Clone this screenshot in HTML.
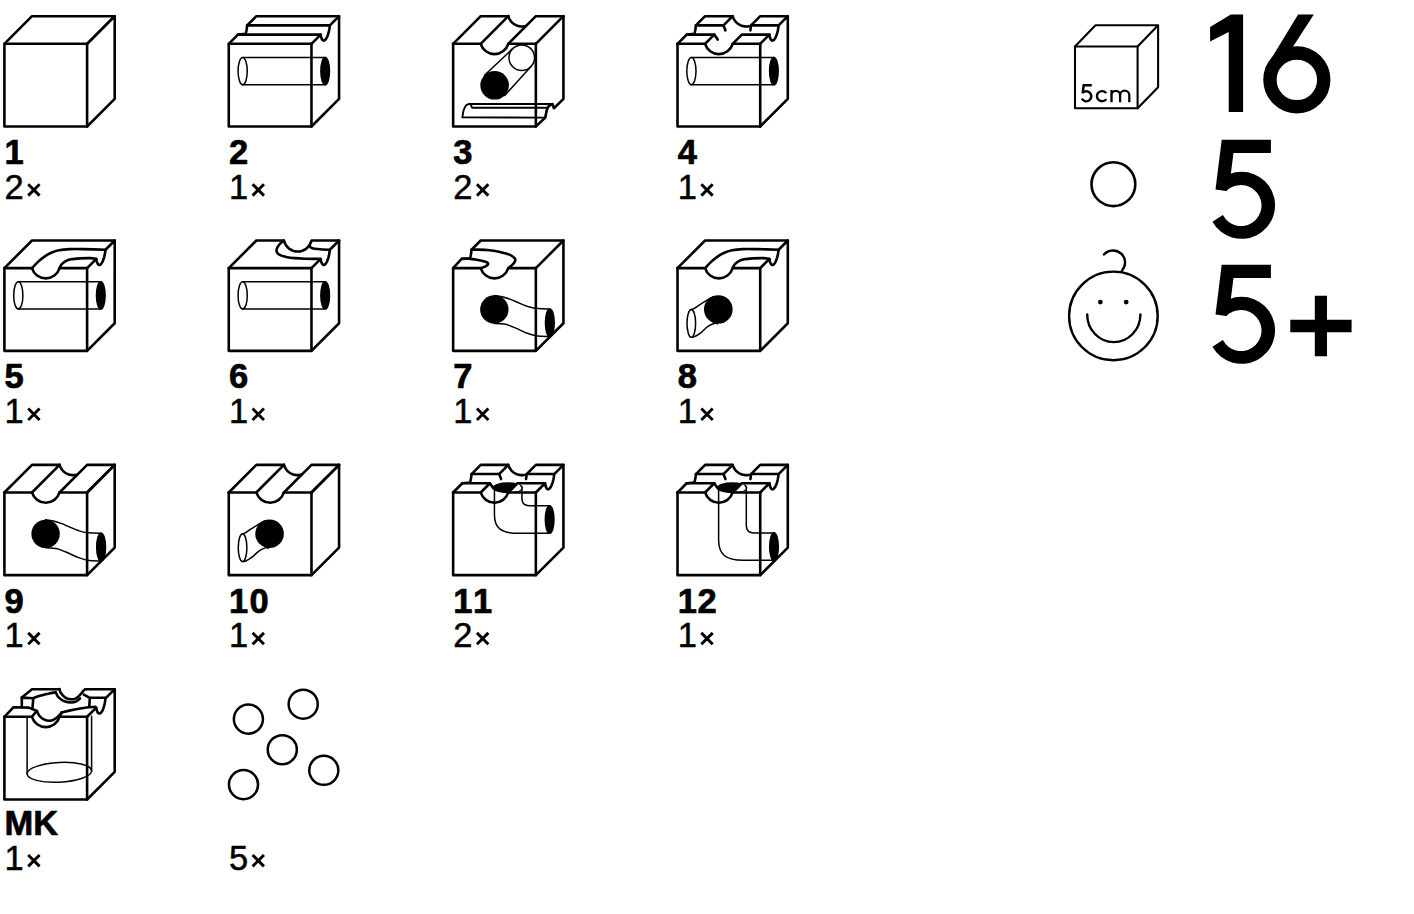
<!DOCTYPE html>
<html><head><meta charset="utf-8"><style>
html,body{margin:0;padding:0;background:#fff;}
body{width:1414px;height:914px;overflow:hidden;}
svg{display:block;}
text{font-family:"Liberation Sans",sans-serif;fill:#000;}
.b{font-weight:bold;font-size:34.5px;stroke:#000;stroke-width:0.7px;}
.n{font-size:34.5px;stroke:#000;stroke-width:0.5px;}
.cm{font-size:24px;}
.big{font-size:136px;}
</style></head><body>
<svg width="1414" height="914" viewBox="0 0 1414 914" stroke-linejoin="round" stroke-linecap="round">
<g transform="translate(4.4,43.8)"><path d="M0,0 H82.7 V82.7 H0 Z" fill="none" stroke="#000" stroke-width="2.6" /><path d="M0,0 L27.6,-27.6 H110.3 L82.7,0" fill="none" stroke="#000" stroke-width="2.6" /><path d="M82.7,0 L110.3,-27.6 V55.1 L82.7,82.7" fill="none" stroke="#000" stroke-width="2.6" /></g>
<g transform="translate(228.77,43.8)"><path d="M13.9,13.6 H96.4 M13.9,40.9 H96.4" fill="none" stroke="#000" stroke-width="1.5" /><ellipse cx="13.9" cy="27.25" rx="4.6" ry="13.65" fill="#fff" stroke="#000" stroke-width="1.5"/><ellipse cx="96.4" cy="27.25" rx="4.3" ry="13.65" fill="#000" stroke="#000" stroke-width="1.5"/><path d="M0,0 H82.7 V82.7 H0 Z" fill="none" stroke="#000" stroke-width="2.6" /><path d="M0,0 L9.2,-9.2 H91.9" fill="none" stroke="#000" stroke-width="2.6" /><path d="M18.4,-18.4 H101.1" fill="none" stroke="#000" stroke-width="2.6" /><path d="M18.4,-18.4 L27.6,-27.6 H110.3" fill="none" stroke="#000" stroke-width="2.6" /><path d="M18.4,-18.4 L18.09,-15.76 17.79,-13.87 17.48,-12.33 17.17,-11.03 16.87,-9.89 9.2,-9.2" fill="none" stroke="#000" stroke-width="2.6" /><path d="M82.7,0 L91.9,-9.2 92.36,-6.77 92.82,-5.35 93.28,-4.42 93.74,-3.81 94.2,-3.43 94.66,-3.24 95.12,-3.22 95.58,-3.34 96.04,-3.61 96.5,-4 96.96,-4.53 97.42,-5.18 97.88,-5.98 98.34,-6.92 98.8,-8.03 99.26,-9.33 99.72,-10.86 100.18,-12.71 100.64,-15.05 101.1,-18.4 110.3,-27.6 110.3,55.1 82.7,82.7" fill="none" stroke="#000" stroke-width="2.6" /></g>
<g transform="translate(453.14,43.8)"><path d="M31.39,31.39 L59.55,4.85 M51.61,51.61 L77.65,22.95" fill="none" stroke="#000" stroke-width="1.5" /><circle cx="68.6" cy="13.9" r="12.8" fill="none" stroke="#000" stroke-width="1.5"/><circle cx="41.5" cy="41.5" r="14.3" fill="#000"/><path d="M15.4,60.2 H99.3 M15.4,60.2 C11.5,61 9.8,68 9.2,73.6 L92.1,73.8 M99.3,60.2 C96,61 94.5,63 93.6,66.5 C93,69 92.6,71.5 92.1,73.8" fill="none" stroke="#000" stroke-width="1.9" /><path d="M17.6,61.0 L19,63.9 H93.6" fill="none" stroke="#000" stroke-width="1.9" /><path d="M0,0 V82.7 H82.7 V0" fill="none" stroke="#000" stroke-width="2.6" /><path d="M0,0 H27.57 A14.37 14.37 0 0 0 55.13,0 H82.7" fill="none" stroke="#000" stroke-width="2.6" /><path d="M0,0 L27.6,-27.6 H55.17" fill="none" stroke="#000" stroke-width="2.6" /><path d="M27.57,0 L55.17,-27.6" fill="none" stroke="#000" stroke-width="2.6" /><path d="M55.13,0 L82.73,-27.6 H110.3" fill="none" stroke="#000" stroke-width="2.6" /><path d="M55.17,-27.6 L55.63,-26.28 56.09,-25.26 56.55,-24.41 57,-23.68 57.46,-23.03 57.92,-22.45 58.38,-21.93 58.84,-21.45 59.3,-21.02 59.76,-20.62 60.22,-20.25 60.68,-19.92 61.14,-19.61 61.6,-19.32 62.06,-19.06 62.52,-18.82 62.98,-18.6 63.44,-18.4 63.9,-18.22 64.36,-18.05 64.81,-17.91 65.27,-17.78 65.73,-17.66 66.19,-17.57 66.65,-17.48 67.11,-17.42 67.57,-17.37 68.03,-17.33 68.49,-17.31 68.95,-17.3 69.41,-17.31 69.87,-17.33 70.33,-17.37 70.79,-17.42 71.25,-17.48 71.71,-17.57 72.17,-17.66 72.63,-17.78" fill="none" stroke="#000" stroke-width="2.6" /><path d="M82.7,0 L110.3,-27.6" fill="none" stroke="#000" stroke-width="2.6" /><path d="M110.3,-27.6 V55.1 L100.8,64.4 L99.3,60.2 C96,61 94.5,63 93.6,66.5 C93,69 92.6,71.5 92.1,73.8 L82.7,82.7" fill="none" stroke="#000" stroke-width="2.6" /></g>
<g transform="translate(677.51,43.8)"><path d="M13.9,13.6 H96.4 M13.9,40.9 H96.4" fill="none" stroke="#000" stroke-width="1.5" /><ellipse cx="13.9" cy="27.25" rx="4.6" ry="13.65" fill="#fff" stroke="#000" stroke-width="1.5"/><ellipse cx="96.4" cy="27.25" rx="4.3" ry="13.65" fill="#000" stroke="#000" stroke-width="1.5"/><path d="M0,0 V82.7 H82.7 V0" fill="none" stroke="#000" stroke-width="2.6" /><path d="M0,0 H27.57 A14.37 14.37 0 0 0 55.13,0 H82.7" fill="none" stroke="#000" stroke-width="2.6" /><path d="M0,0 L9.2,-9.2 H36.77 L27.57,0" fill="none" stroke="#000" stroke-width="2.6" /><path d="M36.77,-9.2 L40.17,-4.2" fill="none" stroke="#000" stroke-width="2.6" /><path d="M55.13,0 L64.33,-9.2 H91.9" fill="none" stroke="#000" stroke-width="2.6" /><path d="M18.4,-18.4 H45.97 L55.17,-27.6 H27.6 Z" fill="none" stroke="#000" stroke-width="2.6" /><path d="M45.97,-18.4 L47.97,-13.4" fill="none" stroke="#000" stroke-width="2.6" /><path d="M18.4,-18.4 L18.09,-15.76 17.79,-13.87 17.48,-12.33 17.17,-11.03 16.87,-9.89 9.2,-9.2" fill="none" stroke="#000" stroke-width="2.6" /><path d="M73.53,-18.4 H101.1 M73.53,-18.4 L82.73,-27.6 H110.3" fill="none" stroke="#000" stroke-width="2.6" /><path d="M73.53,-18.4 L72.93,-13.4" fill="none" stroke="#000" stroke-width="2.6" /><path d="M55.17,-27.6 L55.63,-26.28 56.09,-25.26 56.55,-24.41 57,-23.68 57.46,-23.03 57.92,-22.45 58.38,-21.93 58.84,-21.45 59.3,-21.02 59.76,-20.62 60.22,-20.25 60.68,-19.92 61.14,-19.61 61.6,-19.32 62.06,-19.06 62.52,-18.82 62.98,-18.6 63.44,-18.4 63.9,-18.22 64.36,-18.05 64.81,-17.91 65.27,-17.78 65.73,-17.66 66.19,-17.57 66.65,-17.48 67.11,-17.42 67.57,-17.37 68.03,-17.33 68.49,-17.31 68.95,-17.3 69.41,-17.31 69.87,-17.33 70.33,-17.37 70.79,-17.42 71.25,-17.48" fill="none" stroke="#000" stroke-width="2.6" /><path d="M82.7,0 L91.9,-9.2 92.36,-6.77 92.82,-5.35 93.28,-4.42 93.74,-3.81 94.2,-3.43 94.66,-3.24 95.12,-3.22 95.58,-3.34 96.04,-3.61 96.5,-4 96.96,-4.53 97.42,-5.18 97.88,-5.98 98.34,-6.92 98.8,-8.03 99.26,-9.33 99.72,-10.86 100.18,-12.71 100.64,-15.05 101.1,-18.4 110.3,-27.6 110.3,55.1 82.7,82.7" fill="none" stroke="#000" stroke-width="2.6" /></g>
<g transform="translate(4.4,268.13)"><path d="M13.9,13.6 H96.4 M13.9,40.9 H96.4" fill="none" stroke="#000" stroke-width="1.5" /><ellipse cx="13.9" cy="27.25" rx="4.6" ry="13.65" fill="#fff" stroke="#000" stroke-width="1.5"/><ellipse cx="96.4" cy="27.25" rx="4.3" ry="13.65" fill="#000" stroke="#000" stroke-width="1.5"/><path d="M0,0 V82.7 H82.7 V0" fill="none" stroke="#000" stroke-width="2.6" /><path d="M0,0 H27.57 A14.37 14.37 0 0 0 55.13,0 H82.7" fill="none" stroke="#000" stroke-width="2.6" /><path d="M0,0 L27.6,-27.6 H110.3" fill="none" stroke="#000" stroke-width="2.6" /><path d="M27.57,0 C28.52,-1 31.16,-4.05 33.3,-6 C35.44,-7.95 38.05,-10.1 40.4,-11.7 C42.75,-13.3 45.05,-14.57 47.4,-15.6 C49.75,-16.63 51.55,-17.33 54.5,-17.9 C57.45,-18.47 60.97,-18.82 65.1,-19 C69.23,-19.18 73.3,-19.1 79.3,-19 C85.3,-18.9 97.47,-18.5 101.1,-18.4" fill="none" stroke="#000" stroke-width="2.6" /><path d="M55.13,0 C55.49,-0.65 56.34,-2.77 57.3,-3.9 C58.26,-5.03 59.37,-5.97 60.9,-6.8 C62.43,-7.63 64.03,-8.4 66.5,-8.9 C68.97,-9.4 72.4,-9.62 75.7,-9.8 C79,-9.98 83.6,-10.1 86.3,-10 C89,-9.9 90.97,-9.33 91.9,-9.2" fill="none" stroke="#000" stroke-width="2.6" /><path d="M82.7,0 L91.9,-9.2 92.36,-6.77 92.82,-5.35 93.28,-4.42 93.74,-3.81 94.2,-3.43 94.66,-3.24 95.12,-3.22 95.58,-3.34 96.04,-3.61 96.5,-4 96.96,-4.53 97.42,-5.18 97.88,-5.98 98.34,-6.92 98.8,-8.03 99.26,-9.33 99.72,-10.86 100.18,-12.71 100.64,-15.05 101.1,-18.4 110.3,-27.6 110.3,55.1 82.7,82.7" fill="none" stroke="#000" stroke-width="2.6" /></g>
<g transform="translate(228.77,268.13)"><path d="M13.9,13.6 H96.4 M13.9,40.9 H96.4" fill="none" stroke="#000" stroke-width="1.5" /><ellipse cx="13.9" cy="27.25" rx="4.6" ry="13.65" fill="#fff" stroke="#000" stroke-width="1.5"/><ellipse cx="96.4" cy="27.25" rx="4.3" ry="13.65" fill="#000" stroke="#000" stroke-width="1.5"/><path d="M0,0 H82.7 V82.7 H0 Z" fill="none" stroke="#000" stroke-width="2.6" /><path d="M0,0 L27.6,-27.6 H55.17 A14.14 14.14 0 0 0 82.73,-27.6 H110.3" fill="none" stroke="#000" stroke-width="2.6" /><path d="M55.17,-27.6 C54.41,-26.93 51.79,-25 50.6,-23.6 C49.41,-22.2 48.38,-20.53 48,-19.2 C47.62,-17.87 47.72,-16.63 48.3,-15.6 C48.88,-14.57 49.97,-13.73 51.5,-13 C53.03,-12.27 55.08,-11.7 57.5,-11.2 C59.92,-10.7 62.92,-10.3 66,-10 C69.08,-9.7 71.68,-9.53 76,-9.4 C80.32,-9.27 89.25,-9.23 91.9,-9.2" fill="none" stroke="#000" stroke-width="2.6" /><path d="M80.6,-22.7 C80.87,-22.33 81.35,-21.07 82.2,-20.5 C83.05,-19.93 83.8,-19.62 85.7,-19.3 C87.6,-18.98 91.03,-18.75 93.6,-18.6 C96.17,-18.45 99.85,-18.43 101.1,-18.4" fill="none" stroke="#000" stroke-width="2.6" /><path d="M82.7,0 L91.9,-9.2 92.36,-6.77 92.82,-5.35 93.28,-4.42 93.74,-3.81 94.2,-3.43 94.66,-3.24 95.12,-3.22 95.58,-3.34 96.04,-3.61 96.5,-4 96.96,-4.53 97.42,-5.18 97.88,-5.98 98.34,-6.92 98.8,-8.03 99.26,-9.33 99.72,-10.86 100.18,-12.71 100.64,-15.05 101.1,-18.4 110.3,-27.6 110.3,55.1 82.7,82.7" fill="none" stroke="#000" stroke-width="2.6" /></g>
<g transform="translate(453.14,268.13)"><path d="M41.1,27.3 C42.38,27.52 46.08,27.95 48.8,28.6 C51.52,29.25 54.43,30.1 57.4,31.2 C60.37,32.3 63.43,33.92 66.6,35.2 C69.77,36.48 73.33,38.03 76.4,38.9 C79.47,39.77 81.62,40.08 85,40.4 C88.38,40.72 94.75,40.73 96.7,40.8" fill="none" stroke="#000" stroke-width="1.5" /><path d="M41.1,55.3 C42.07,55.35 44.85,55.42 46.9,55.6 C48.95,55.78 50.67,55.62 53.4,56.4 C56.13,57.18 60.02,58.9 63.3,60.3 C66.58,61.7 69.82,63.57 73.1,64.8 C76.38,66.03 79.07,67.07 83,67.7 C86.93,68.33 94.42,68.45 96.7,68.6" fill="none" stroke="#000" stroke-width="1.5" /><ellipse cx="96.7" cy="54.7" rx="4.4" ry="13.9" fill="#000" stroke="#000" stroke-width="1.5"/><circle cx="41.2" cy="41.4" r="14.2" fill="#000"/><path d="M0,0 V82.7 H82.7 V0" fill="none" stroke="#000" stroke-width="2.6" /><path d="M0,0 H27.57 A14.37 14.37 0 0 0 55.13,0 H82.7" fill="none" stroke="#000" stroke-width="2.6" /><path d="M0,0 L8.9,-9.7  C10.67,-9.58 16.23,-9.38 19.5,-9 C22.77,-8.62 26.15,-7.92 28.5,-7.4 C30.85,-6.88 32.5,-6.4 33.6,-5.9 C34.7,-5.4 35.1,-4.97 35.1,-4.4 C35.1,-3.83 34.42,-3.1 33.6,-2.5 C32.78,-1.9 31.21,-1.22 30.2,-0.8 C29.19,-0.38 28.01,-0.13 27.57,0" fill="none" stroke="#000" stroke-width="2.6" /><path d="M18.4,-18.4 L18.09,-15.76 17.79,-13.87 17.48,-12.33 17.17,-11.03 16.87,-9.89 9.2,-9.2" fill="none" stroke="#000" stroke-width="2.6" /><path d="M18.4,-18.4 L27.6,-27.6 H110.3" fill="none" stroke="#000" stroke-width="2.6" /><path d="M18.4,-18.4 C19.52,-18.42 22.08,-18.6 25.1,-18.5 C28.12,-18.4 32.72,-18.23 36.5,-17.8 C40.28,-17.37 44.5,-16.62 47.8,-15.9 C51.1,-15.18 54,-14.52 56.3,-13.5 C58.6,-12.48 60.68,-10.93 61.6,-9.8 C62.52,-8.67 62.22,-7.78 61.8,-6.7 C61.38,-5.62 60.21,-4.42 59.1,-3.3 C57.99,-2.18 55.79,-0.55 55.13,0" fill="none" stroke="#000" stroke-width="2.6" /><path d="M82.7,0 L110.3,-27.6 V55.1 L82.7,82.7" fill="none" stroke="#000" stroke-width="2.6" /></g>
<g transform="translate(677.51,268.13)"><path d="M36,28.5 C34.82,29.15 31.3,30.98 28.9,32.4 C26.5,33.82 23.68,35.65 21.6,37 C19.52,38.35 17.7,39.78 16.4,40.5 C15.1,41.22 14.23,41.17 13.8,41.3" fill="none" stroke="#000" stroke-width="1.5" /><path d="M40,55.6 C39.45,55.57 38.35,54.9 36.7,55.4 C35.05,55.9 32.28,57.1 30.1,58.6 C27.92,60.1 25.78,62.75 23.6,64.4 C21.42,66.05 18.63,67.72 17,68.5 C15.37,69.28 14.33,69 13.8,69.1" fill="none" stroke="#000" stroke-width="1.5" /><ellipse cx="13.8" cy="55.2" rx="4.3" ry="13.9" fill="#fff" stroke="#000" stroke-width="1.5"/><circle cx="40.8" cy="41.3" r="14.3" fill="#000"/><path d="M0,0 V82.7 H82.7 V0" fill="none" stroke="#000" stroke-width="2.6" /><path d="M0,0 H27.57 A14.37 14.37 0 0 0 55.13,0 H82.7" fill="none" stroke="#000" stroke-width="2.6" /><path d="M0,0 L27.6,-27.6 H110.3" fill="none" stroke="#000" stroke-width="2.6" /><path d="M27.57,0 C28.52,-1 31.16,-4.05 33.3,-6 C35.44,-7.95 38.05,-10.1 40.4,-11.7 C42.75,-13.3 45.05,-14.57 47.4,-15.6 C49.75,-16.63 51.55,-17.33 54.5,-17.9 C57.45,-18.47 60.97,-18.82 65.1,-19 C69.23,-19.18 73.3,-19.1 79.3,-19 C85.3,-18.9 97.47,-18.5 101.1,-18.4" fill="none" stroke="#000" stroke-width="2.6" /><path d="M55.13,0 C55.49,-0.65 56.34,-2.77 57.3,-3.9 C58.26,-5.03 59.37,-5.97 60.9,-6.8 C62.43,-7.63 64.03,-8.4 66.5,-8.9 C68.97,-9.4 72.4,-9.62 75.7,-9.8 C79,-9.98 83.6,-10.1 86.3,-10 C89,-9.9 90.97,-9.33 91.9,-9.2" fill="none" stroke="#000" stroke-width="2.6" /><path d="M82.7,0 L91.9,-9.2 92.36,-6.77 92.82,-5.35 93.28,-4.42 93.74,-3.81 94.2,-3.43 94.66,-3.24 95.12,-3.22 95.58,-3.34 96.04,-3.61 96.5,-4 96.96,-4.53 97.42,-5.18 97.88,-5.98 98.34,-6.92 98.8,-8.03 99.26,-9.33 99.72,-10.86 100.18,-12.71 100.64,-15.05 101.1,-18.4 110.3,-27.6 110.3,55.1 82.7,82.7" fill="none" stroke="#000" stroke-width="2.6" /></g>
<g transform="translate(4.4,492.46)"><path d="M41.1,27.3 C42.38,27.52 46.08,27.95 48.8,28.6 C51.52,29.25 54.43,30.1 57.4,31.2 C60.37,32.3 63.43,33.92 66.6,35.2 C69.77,36.48 73.33,38.03 76.4,38.9 C79.47,39.77 81.62,40.08 85,40.4 C88.38,40.72 94.75,40.73 96.7,40.8" fill="none" stroke="#000" stroke-width="1.5" /><path d="M41.1,55.3 C42.07,55.35 44.85,55.42 46.9,55.6 C48.95,55.78 50.67,55.62 53.4,56.4 C56.13,57.18 60.02,58.9 63.3,60.3 C66.58,61.7 69.82,63.57 73.1,64.8 C76.38,66.03 79.07,67.07 83,67.7 C86.93,68.33 94.42,68.45 96.7,68.6" fill="none" stroke="#000" stroke-width="1.5" /><ellipse cx="96.7" cy="54.7" rx="4.4" ry="13.9" fill="#000" stroke="#000" stroke-width="1.5"/><circle cx="41.2" cy="41.4" r="14.2" fill="#000"/><path d="M0,0 V82.7 H82.7 V0" fill="none" stroke="#000" stroke-width="2.6" /><path d="M0,0 H27.57 A14.37 14.37 0 0 0 55.13,0 H82.7" fill="none" stroke="#000" stroke-width="2.6" /><path d="M0,0 L27.6,-27.6 H55.17" fill="none" stroke="#000" stroke-width="2.6" /><path d="M27.57,0 L55.17,-27.6" fill="none" stroke="#000" stroke-width="2.6" /><path d="M55.13,0 L82.73,-27.6 H110.3" fill="none" stroke="#000" stroke-width="2.6" /><path d="M55.17,-27.6 L55.63,-26.28 56.09,-25.26 56.55,-24.41 57,-23.68 57.46,-23.03 57.92,-22.45 58.38,-21.93 58.84,-21.45 59.3,-21.02 59.76,-20.62 60.22,-20.25 60.68,-19.92 61.14,-19.61 61.6,-19.32 62.06,-19.06 62.52,-18.82 62.98,-18.6 63.44,-18.4 63.9,-18.22 64.36,-18.05 64.81,-17.91 65.27,-17.78 65.73,-17.66 66.19,-17.57 66.65,-17.48 67.11,-17.42 67.57,-17.37 68.03,-17.33 68.49,-17.31 68.95,-17.3 69.41,-17.31 69.87,-17.33 70.33,-17.37 70.79,-17.42 71.25,-17.48 71.71,-17.57 72.17,-17.66 72.63,-17.78" fill="none" stroke="#000" stroke-width="2.6" /><path d="M82.7,0 L110.3,-27.6" fill="none" stroke="#000" stroke-width="2.6" /><path d="M82.7,0 L110.3,-27.6 V55.1 L82.7,82.7" fill="none" stroke="#000" stroke-width="2.6" /></g>
<g transform="translate(228.77,492.46)"><path d="M36,28.5 C34.82,29.15 31.3,30.98 28.9,32.4 C26.5,33.82 23.68,35.65 21.6,37 C19.52,38.35 17.7,39.78 16.4,40.5 C15.1,41.22 14.23,41.17 13.8,41.3" fill="none" stroke="#000" stroke-width="1.5" /><path d="M40,55.6 C39.45,55.57 38.35,54.9 36.7,55.4 C35.05,55.9 32.28,57.1 30.1,58.6 C27.92,60.1 25.78,62.75 23.6,64.4 C21.42,66.05 18.63,67.72 17,68.5 C15.37,69.28 14.33,69 13.8,69.1" fill="none" stroke="#000" stroke-width="1.5" /><ellipse cx="13.8" cy="55.2" rx="4.3" ry="13.9" fill="#fff" stroke="#000" stroke-width="1.5"/><circle cx="40.8" cy="41.3" r="14.3" fill="#000"/><path d="M0,0 V82.7 H82.7 V0" fill="none" stroke="#000" stroke-width="2.6" /><path d="M0,0 H27.57 A14.37 14.37 0 0 0 55.13,0 H82.7" fill="none" stroke="#000" stroke-width="2.6" /><path d="M0,0 L27.6,-27.6 H55.17" fill="none" stroke="#000" stroke-width="2.6" /><path d="M27.57,0 L55.17,-27.6" fill="none" stroke="#000" stroke-width="2.6" /><path d="M55.13,0 L82.73,-27.6 H110.3" fill="none" stroke="#000" stroke-width="2.6" /><path d="M55.17,-27.6 L55.63,-26.28 56.09,-25.26 56.55,-24.41 57,-23.68 57.46,-23.03 57.92,-22.45 58.38,-21.93 58.84,-21.45 59.3,-21.02 59.76,-20.62 60.22,-20.25 60.68,-19.92 61.14,-19.61 61.6,-19.32 62.06,-19.06 62.52,-18.82 62.98,-18.6 63.44,-18.4 63.9,-18.22 64.36,-18.05 64.81,-17.91 65.27,-17.78 65.73,-17.66 66.19,-17.57 66.65,-17.48 67.11,-17.42 67.57,-17.37 68.03,-17.33 68.49,-17.31 68.95,-17.3 69.41,-17.31 69.87,-17.33 70.33,-17.37 70.79,-17.42 71.25,-17.48 71.71,-17.57 72.17,-17.66 72.63,-17.78" fill="none" stroke="#000" stroke-width="2.6" /><path d="M82.7,0 L110.3,-27.6" fill="none" stroke="#000" stroke-width="2.6" /><path d="M82.7,0 L110.3,-27.6 V55.1 L82.7,82.7" fill="none" stroke="#000" stroke-width="2.6" /></g>
<g transform="translate(453.14,492.46)"><path d="M41.3,-3 V22 C41.3,36 48,40.9 66,40.9 H96.6" fill="none" stroke="#000" stroke-width="1.5" /><path d="M68.8,-3 V6 C69,12 72,13.3 79,13.3 H96.6" fill="none" stroke="#000" stroke-width="1.5" /><ellipse cx="96.5" cy="27.1" rx="4.3" ry="13.8" fill="#000" stroke="#000" stroke-width="1.5"/><ellipse cx="54.7" cy="-4.7" rx="14.4" ry="4.7" fill="#000" stroke="#000" stroke-width="1.5"/><path d="M56.03,0 L65.23,-9.2 L68.3,-4.7 Q68.6,-0.6 56.03,-0.4 Z" fill="#fff"/><path d="M0,0 V82.7 H82.7 V0" fill="none" stroke="#000" stroke-width="2.6" /><path d="M0,0 H27.57 A14.37 14.37 0 0 0 55.13,0 H82.7" fill="none" stroke="#000" stroke-width="2.6" /><path d="M0,0 L9.2,-9.2 H36.77 L27.57,0" fill="none" stroke="#000" stroke-width="2.6" /><path d="M36.77,-9.2 L40.17,-4.2" fill="none" stroke="#000" stroke-width="2.6" /><path d="M55.13,0 L64.33,-9.2 H91.9" fill="none" stroke="#000" stroke-width="2.6" /><path d="M18.4,-18.4 H45.97 L55.17,-27.6 H27.6 Z" fill="none" stroke="#000" stroke-width="2.6" /><path d="M45.97,-18.4 L47.97,-13.4" fill="none" stroke="#000" stroke-width="2.6" /><path d="M18.4,-18.4 L18.09,-15.76 17.79,-13.87 17.48,-12.33 17.17,-11.03 16.87,-9.89 9.2,-9.2" fill="none" stroke="#000" stroke-width="2.6" /><path d="M73.53,-18.4 H101.1 M73.53,-18.4 L82.73,-27.6 H110.3" fill="none" stroke="#000" stroke-width="2.6" /><path d="M73.53,-18.4 L72.93,-13.4" fill="none" stroke="#000" stroke-width="2.6" /><path d="M55.17,-27.6 L55.63,-26.28 56.09,-25.26 56.55,-24.41 57,-23.68 57.46,-23.03 57.92,-22.45 58.38,-21.93 58.84,-21.45 59.3,-21.02 59.76,-20.62 60.22,-20.25 60.68,-19.92 61.14,-19.61 61.6,-19.32 62.06,-19.06 62.52,-18.82 62.98,-18.6 63.44,-18.4 63.9,-18.22 64.36,-18.05 64.81,-17.91 65.27,-17.78 65.73,-17.66 66.19,-17.57 66.65,-17.48 67.11,-17.42 67.57,-17.37 68.03,-17.33 68.49,-17.31 68.95,-17.3 69.41,-17.31 69.87,-17.33 70.33,-17.37 70.79,-17.42 71.25,-17.48" fill="none" stroke="#000" stroke-width="2.6" /><path d="M82.7,0 L91.9,-9.2 92.36,-6.77 92.82,-5.35 93.28,-4.42 93.74,-3.81 94.2,-3.43 94.66,-3.24 95.12,-3.22 95.58,-3.34 96.04,-3.61 96.5,-4 96.96,-4.53 97.42,-5.18 97.88,-5.98 98.34,-6.92 98.8,-8.03 99.26,-9.33 99.72,-10.86 100.18,-12.71 100.64,-15.05 101.1,-18.4 110.3,-27.6 110.3,55.1 82.7,82.7" fill="none" stroke="#000" stroke-width="2.6" /></g>
<g transform="translate(677.51,492.46)"><path d="M41.1,-3 V47 C41.1,62 48,67.9 66,67.9 H96.4" fill="none" stroke="#000" stroke-width="1.5" /><path d="M68.8,-3 V33 C69,39 72,40.6 79,40.6 H96.4" fill="none" stroke="#000" stroke-width="1.5" /><ellipse cx="96.5" cy="54.2" rx="4.3" ry="13.8" fill="#000" stroke="#000" stroke-width="1.5"/><ellipse cx="54.7" cy="-4.7" rx="14.4" ry="4.7" fill="#000" stroke="#000" stroke-width="1.5"/><path d="M56.03,0 L65.23,-9.2 L68.3,-4.7 Q68.6,-0.6 56.03,-0.4 Z" fill="#fff"/><path d="M0,0 V82.7 H82.7 V0" fill="none" stroke="#000" stroke-width="2.6" /><path d="M0,0 H27.57 A14.37 14.37 0 0 0 55.13,0 H82.7" fill="none" stroke="#000" stroke-width="2.6" /><path d="M0,0 L9.2,-9.2 H36.77 L27.57,0" fill="none" stroke="#000" stroke-width="2.6" /><path d="M36.77,-9.2 L40.17,-4.2" fill="none" stroke="#000" stroke-width="2.6" /><path d="M55.13,0 L64.33,-9.2 H91.9" fill="none" stroke="#000" stroke-width="2.6" /><path d="M18.4,-18.4 H45.97 L55.17,-27.6 H27.6 Z" fill="none" stroke="#000" stroke-width="2.6" /><path d="M45.97,-18.4 L47.97,-13.4" fill="none" stroke="#000" stroke-width="2.6" /><path d="M18.4,-18.4 L18.09,-15.76 17.79,-13.87 17.48,-12.33 17.17,-11.03 16.87,-9.89 9.2,-9.2" fill="none" stroke="#000" stroke-width="2.6" /><path d="M73.53,-18.4 H101.1 M73.53,-18.4 L82.73,-27.6 H110.3" fill="none" stroke="#000" stroke-width="2.6" /><path d="M73.53,-18.4 L72.93,-13.4" fill="none" stroke="#000" stroke-width="2.6" /><path d="M55.17,-27.6 L55.63,-26.28 56.09,-25.26 56.55,-24.41 57,-23.68 57.46,-23.03 57.92,-22.45 58.38,-21.93 58.84,-21.45 59.3,-21.02 59.76,-20.62 60.22,-20.25 60.68,-19.92 61.14,-19.61 61.6,-19.32 62.06,-19.06 62.52,-18.82 62.98,-18.6 63.44,-18.4 63.9,-18.22 64.36,-18.05 64.81,-17.91 65.27,-17.78 65.73,-17.66 66.19,-17.57 66.65,-17.48 67.11,-17.42 67.57,-17.37 68.03,-17.33 68.49,-17.31 68.95,-17.3 69.41,-17.31 69.87,-17.33 70.33,-17.37 70.79,-17.42 71.25,-17.48" fill="none" stroke="#000" stroke-width="2.6" /><path d="M82.7,0 L91.9,-9.2 92.36,-6.77 92.82,-5.35 93.28,-4.42 93.74,-3.81 94.2,-3.43 94.66,-3.24 95.12,-3.22 95.58,-3.34 96.04,-3.61 96.5,-4 96.96,-4.53 97.42,-5.18 97.88,-5.98 98.34,-6.92 98.8,-8.03 99.26,-9.33 99.72,-10.86 100.18,-12.71 100.64,-15.05 101.1,-18.4 110.3,-27.6 110.3,55.1 82.7,82.7" fill="none" stroke="#000" stroke-width="2.6" /></g>
<g transform="translate(4.4,716.79)"><path d="M22.7,0.5 V57 M87.2,-0.5 V54.1" fill="none" stroke="#000" stroke-width="1.5" /><ellipse cx="0" cy="0" rx="32.25" ry="9.9" transform="matrix(1 -0.045 0 1 54.95 55.55)" fill="none" stroke="#000" stroke-width="1.5"/><path d="M0,0 V82.7 H82.7 V0" fill="none" stroke="#000" stroke-width="2.6" /><path d="M0,0 H27.57 A14.37 14.37 0 0 0 55.13,0 H82.7" fill="none" stroke="#000" stroke-width="2.6" /><path d="M0,0 L9.2,-9.6 L24.5,-9.2 L32.6,-5.8 L27.3,0" fill="none" stroke="#000" stroke-width="2.6" /><path d="M32.6,-5.8 C33,-5 33.87,-2.4 35,-1 C36.13,0.4 37.65,1.77 39.4,2.6 C41.15,3.43 43.48,4.18 45.5,4 C47.52,3.82 49.85,2.53 51.5,1.5 C53.15,0.47 54.4,-1.22 55.4,-2.2 C56.4,-3.18 57.15,-4.03 57.5,-4.4" fill="none" stroke="#000" stroke-width="2.6" /><path d="M57.5,-4.4 C58.92,-4.73 62.17,-5.63 66,-6.4 C69.83,-7.17 76.35,-8.42 80.5,-9 C84.65,-9.58 89.17,-9.75 90.9,-9.9" fill="none" stroke="#000" stroke-width="2.6" /><path d="M55.13,0 L57.5,-4.4" fill="none" stroke="#000" stroke-width="2.6" /><path d="M17.4,-9.6 V-19.2 L28.9,-18.6 L28.1,-8.8" fill="none" stroke="#000" stroke-width="2.6" /><path d="M17.4,-19.2 L27.6,-27.6 H55.17" fill="none" stroke="#000" stroke-width="2.6" /><path d="M28.9,-18.6 C29.75,-18.93 32.25,-20.03 34,-20.6 C35.75,-21.17 37.4,-21.5 39.4,-22 C41.4,-22.5 44.03,-23.17 46,-23.6 C47.97,-24.03 50.33,-24.43 51.2,-24.6" fill="none" stroke="#000" stroke-width="2.6" /><path d="M55,-27.8 C55.28,-27.08 55.7,-24.93 56.7,-23.5 C57.7,-22.07 59.43,-20.2 61,-19.2 C62.57,-18.2 64.55,-17.72 66.1,-17.5 C67.65,-17.28 69.03,-17.47 70.3,-17.9 C71.57,-18.33 72.72,-19.32 73.7,-20.1 C74.68,-20.88 75.22,-21.52 76.2,-22.6 C77.18,-23.68 78.8,-25.77 79.6,-26.6 C80.4,-27.43 80.77,-27.43 81,-27.6" fill="none" stroke="#000" stroke-width="2.6" /><path d="M51.2,-24.6 C51.7,-23.73 52.72,-20.92 54.2,-19.4 C55.68,-17.88 57.98,-16.35 60.1,-15.5 C62.22,-14.65 64.92,-14.32 66.9,-14.3 C68.88,-14.28 70.55,-14.73 72,-15.4 C73.45,-16.07 75,-17.82 75.6,-18.3" fill="none" stroke="#000" stroke-width="2.6" /><path d="M79.4,-22.2 L85.4,-19 H101.1 M85.4,-19 L84.9,-10.2" fill="none" stroke="#000" stroke-width="2.6" /><path d="M81,-27.6 H110.3" fill="none" stroke="#000" stroke-width="2.6" /><path d="M82.7,0 L91.9,-9.2 92.36,-6.77 92.82,-5.35 93.28,-4.42 93.74,-3.81 94.2,-3.43 94.66,-3.24 95.12,-3.22 95.58,-3.34 96.04,-3.61 96.5,-4 96.96,-4.53 97.42,-5.18 97.88,-5.98 98.34,-6.92 98.8,-8.03 99.26,-9.33 99.72,-10.86 100.18,-12.71 100.64,-15.05 101.1,-18.4 110.3,-27.6 110.3,55.1 82.7,82.7" fill="none" stroke="#000" stroke-width="2.6" /></g>
<circle cx="248.4" cy="719.1" r="14.55" fill="none" stroke="#000" stroke-width="2.5"/>
<circle cx="303.2" cy="704.2" r="14.55" fill="none" stroke="#000" stroke-width="2.5"/>
<circle cx="282.3" cy="749.7" r="14.55" fill="none" stroke="#000" stroke-width="2.5"/>
<circle cx="323.8" cy="770.3" r="14.55" fill="none" stroke="#000" stroke-width="2.5"/>
<circle cx="243.5" cy="784.6" r="14.55" fill="none" stroke="#000" stroke-width="2.5"/>
<text x="4.6" y="164.1" class="b">1</text>
<text x="4.6" y="198.8" class="n">2</text>
<path d="M28.2,184.2 L39.6,195.6 M39.6,184.2 L28.2,195.6" stroke="#000" stroke-width="2.9" stroke-linecap="butt" fill="none"/>
<text x="228.97" y="164.1" class="b">2</text>
<text x="228.97" y="198.8" class="n">1</text>
<path d="M252.57,184.2 L263.97,195.6 M263.97,184.2 L252.57,195.6" stroke="#000" stroke-width="2.9" stroke-linecap="butt" fill="none"/>
<text x="453.34" y="164.1" class="b">3</text>
<text x="453.34" y="198.8" class="n">2</text>
<path d="M476.94,184.2 L488.34,195.6 M488.34,184.2 L476.94,195.6" stroke="#000" stroke-width="2.9" stroke-linecap="butt" fill="none"/>
<text x="677.71" y="164.1" class="b">4</text>
<text x="677.71" y="198.8" class="n">1</text>
<path d="M701.31,184.2 L712.71,195.6 M712.71,184.2 L701.31,195.6" stroke="#000" stroke-width="2.9" stroke-linecap="butt" fill="none"/>
<text x="4.6" y="388.43" class="b">5</text>
<text x="4.6" y="423.13" class="n">1</text>
<path d="M28.2,408.53 L39.6,419.93 M39.6,408.53 L28.2,419.93" stroke="#000" stroke-width="2.9" stroke-linecap="butt" fill="none"/>
<text x="228.97" y="388.43" class="b">6</text>
<text x="228.97" y="423.13" class="n">1</text>
<path d="M252.57,408.53 L263.97,419.93 M263.97,408.53 L252.57,419.93" stroke="#000" stroke-width="2.9" stroke-linecap="butt" fill="none"/>
<text x="453.34" y="388.43" class="b">7</text>
<text x="453.34" y="423.13" class="n">1</text>
<path d="M476.94,408.53 L488.34,419.93 M488.34,408.53 L476.94,419.93" stroke="#000" stroke-width="2.9" stroke-linecap="butt" fill="none"/>
<text x="677.71" y="388.43" class="b">8</text>
<text x="677.71" y="423.13" class="n">1</text>
<path d="M701.31,408.53 L712.71,419.93 M712.71,408.53 L701.31,419.93" stroke="#000" stroke-width="2.9" stroke-linecap="butt" fill="none"/>
<text x="4.6" y="612.76" class="b">9</text>
<text x="4.6" y="647.46" class="n">1</text>
<path d="M28.2,632.86 L39.6,644.26 M39.6,632.86 L28.2,644.26" stroke="#000" stroke-width="2.9" stroke-linecap="butt" fill="none"/>
<text x="228.97" y="612.76" class="b" letter-spacing="1.3">10</text>
<text x="228.97" y="647.46" class="n">1</text>
<path d="M252.57,632.86 L263.97,644.26 M263.97,632.86 L252.57,644.26" stroke="#000" stroke-width="2.9" stroke-linecap="butt" fill="none"/>
<text x="453.34" y="612.76" class="b" letter-spacing="2.3">11</text>
<text x="453.34" y="647.46" class="n">2</text>
<path d="M476.94,632.86 L488.34,644.26 M488.34,632.86 L476.94,644.26" stroke="#000" stroke-width="2.9" stroke-linecap="butt" fill="none"/>
<text x="677.71" y="612.76" class="b" letter-spacing="0.6">12</text>
<text x="677.71" y="647.46" class="n">1</text>
<path d="M701.31,632.86 L712.71,644.26 M712.71,632.86 L701.31,644.26" stroke="#000" stroke-width="2.9" stroke-linecap="butt" fill="none"/>
<text x="4.6" y="834.89" class="b">MK</text>
<text x="4.6" y="869.59" class="n">1</text>
<path d="M28.2,854.99 L39.6,866.39 M39.6,854.99 L28.2,866.39" stroke="#000" stroke-width="2.9" stroke-linecap="butt" fill="none"/>
<text x="228.97" y="869.59" class="n">5</text>
<path d="M252.57,854.99 L263.97,866.39 M263.97,854.99 L252.57,866.39" stroke="#000" stroke-width="2.9" stroke-linecap="butt" fill="none"/>
<g transform="translate(1075,46.5)"><path d="M0,0 H62.6 V61.8 H0 Z" fill="none" stroke="#000" stroke-width="2.1"/><path d="M0,0 L20.5,-21.3 H83.1 L62.6,0 M83.1,-21.3 V40.7 L62.6,61.8" fill="none" stroke="#000" stroke-width="2.1"/></g>
<g transform="translate(1080.7,84) scale(0.187) translate(-1211.6,-139.8)"><path d="M1221.7,139.8 H1270.9 V153 H1233.5 L1229.4,185 L1226,190.9 L1215.5,189.5 Z" fill="#000"/><path d="M1229.05,174.24 A33.5 33.5 0 1 1 1212.44,221.8 L1222.9,215.12 A20.5 20.5 0 1 0 1226.01,191.52 L1226,190.9 Z" fill="#000"/></g>
<path d="M1106.2,93.2 A5.1 5.1 0 1 0 1106.2,99.1" fill="none" stroke="#000" stroke-width="2.3" stroke-linecap="butt"/>
<path d="M1111.5,102.3 V89.9 M1111.5,95.2 A4.3 4.3 0 0 1 1120.1,95.2 V102.3 M1120.1,95.2 A4.6 4.6 0 0 1 1129.3,95.2 V102.3" fill="none" stroke="#000" stroke-width="2.3" stroke-linecap="butt"/>
<circle cx="1113.4" cy="184.2" r="21.9" fill="none" stroke="#000" stroke-width="2.6"/>
<circle cx="1113.4" cy="315.9" r="44.3" fill="none" stroke="#000" stroke-width="2.4"/>
<circle cx="1100.4" cy="302.1" r="2.4" fill="#000"/><circle cx="1126.2" cy="302.1" r="2.4" fill="#000"/>
<path d="M1087.2,314.5 A26.6 27.6 0 0 0 1140.4,314.5" fill="none" stroke="#000" stroke-width="2.4"/>
<path d="M1104,254.5 A10 10 0 1 1 1122,270.5" fill="none" stroke="#000" stroke-width="2.4"/>
<path d="M1210.1,27 L1230.8,14.4 H1243.1 V111.9 H1228.7 V32 L1210.1,41.5 Z" fill="#000"/>
<path d="M1298.1,14.4 H1313.8 L1285.7,58 L1265.4,68.2 Z" fill="#000"/>
<circle cx="1296.85" cy="79.85" r="26.9" fill="none" stroke="#000" stroke-width="13.4"/>
<path d="M1221.7,139.8 H1270.9 V153 H1233.5 L1229.4,185 L1226,190.9 L1215.5,189.5 Z" fill="#000"/><path d="M1229.05,174.24 A33.5 33.5 0 1 1 1212.44,221.8 L1222.9,215.12 A20.5 20.5 0 1 0 1226.01,191.52 L1226,190.9 Z" fill="#000"/>
<path d="M1221.7,264.8 H1270.9 V278 H1233.5 L1229.4,310 L1226,315.9 L1215.5,314.5 Z" fill="#000"/><path d="M1229.05,299.24 A33.5 33.5 0 1 1 1212.44,346.8 L1222.9,340.12 A20.5 20.5 0 1 0 1226.01,316.52 L1226,315.9 Z" fill="#000"/>
<path d="M1314.8,295.7 H1327 V319.7 H1351.6 V332.2 H1327 V356.3 H1314.8 V332.2 H1290.3 V319.7 H1314.8 Z" fill="#000"/>
</svg>
</body></html>
